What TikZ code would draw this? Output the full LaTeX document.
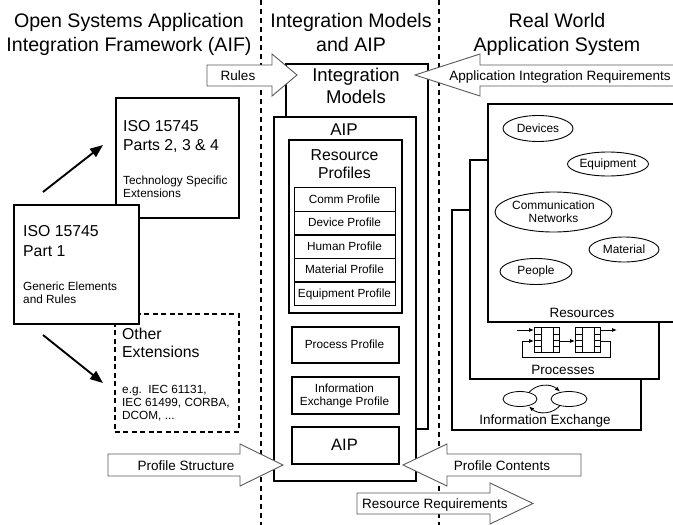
\documentclass[tikz,border=0pt]{standalone}
\usepackage{fontspec}
\setmainfont{Liberation Sans}
\usetikzlibrary{shapes.geometric,arrows.meta}
\begin{document}
\begin{tikzpicture}[x=1pt,y=-1pt,
  box/.style={draw, line width=1.6pt, fill=white, inner sep=0pt, anchor=north west},
  rowbox/.style={draw, line width=1.3pt, fill=white, inner sep=0pt, anchor=north west, minimum width=101pt, minimum height=23.6pt},
  dbox/.style={draw, line width=1.5pt, dash pattern=on 5pt off 3.5pt, fill=white, inner sep=0pt, anchor=north west},
  sepline/.style={line width=1.1pt, dash pattern=on 5pt off 4pt},
  barrow/.style={draw=black!65, line width=0.9pt, fill=white},
  ptr/.style={line width=1.9pt, -{Triangle[length=13pt,width=10pt]}},
  ico/.style={line width=0.8pt},
  icoarr/.style={line width=0.8pt, -{Latex[length=5pt,width=4pt]}},
  ell/.style={draw, ellipse, line width=0.9pt, inner sep=0pt, align=center, font=\fontsize{11.9}{13}\selectfont},
  f12/.style={font=\fontsize{11.8}{13}\selectfont},
  f13/.style={font=\fontsize{13.5}{16}\selectfont},
  f15/.style={font=\fontsize{15.8}{19}\selectfont},
  f16/.style={font=\fontsize{16.5}{20}\selectfont},
  f17/.style={font=\fontsize{17}{20}\selectfont},
  f18/.style={font=\fontsize{18.5}{22}\selectfont},
  f19/.style={font=\fontsize{19.6}{24}\selectfont},
  lb/.style={inner sep=0pt, anchor=base west},
  cb/.style={inner sep=0pt, anchor=base}]
\useasboundingbox (0,0) rectangle (673,525);

% separators
\draw[sepline] (261,0) -- (261,525);
\draw[sepline] (439,0) -- (439,525);

% headers
\node[cb,f19] (h1a) at (129,27) {Open Systems Application};
\node[cb,f19] (h1b) at (129,51) {Integration Framework (AIF)};
\node[cb,f19] (h2a) at (351,27) {Integration Models};
\node[cb,f19] (h2b) at (351,51) {and AIP};
\node[cb,f19] (h3a) at (557,27) {Real World};
\node[cb,f19] (h3b) at (557,51) {Application System};

% left column
\node[box, minimum width=123pt, minimum height=120pt] (parts) at (115,97) {};
\node[dbox, minimum width=124pt, minimum height=118pt] (other) at (114,313) {};
\node[box, minimum width=125pt, minimum height=119pt] (part1) at (13,204) {};
\node[lb,f15] (pa1) at (123,131) {ISO 15745};
\node[lb,f15] (pa2) at (123,150.7) {Parts 2, 3 \& 4};
\node[lb,f12] (pa3) at (123,184) {Technology Specific};
\node[lb,f12] (pa4) at (123,197.3) {Extensions};
\node[lb,f15] (p11) at (23,236.7) {ISO 15745};
\node[lb,f15] (p12) at (23,256.7) {Part 1};
\node[lb,f12] (p13) at (23,290) {Generic Elements};
\node[lb,f12] (p14) at (23,303.3) {and Rules};
\node[lb,f15] (o1) at (122,339) {Other};
\node[lb,f15] (o2) at (122,357.3) {Extensions};
\node[lb,f12] (o3) at (122,393) {e.g.\ \ IEC 61131,};
\node[lb,f12] (o4) at (122,406) {IEC 61499, CORBA,};
\node[lb,f12] (o5) at (122,419) {DCOM, ...};
\coordinate (upS) at (43,192);
\coordinate (upE) at (103,145);
\coordinate (dnS) at (43,335);
\coordinate (dnE) at (103,383);
\draw[ptr] (upS) -- (upE);
\draw[ptr] (dnS) -- (dnE);

% middle column
\node[box, minimum width=142pt, minimum height=365pt] (im) at (285,63) {};
\node[cb,f18] (imt1) at (356,81.5) {Integration};
\node[cb,f18] (imt2) at (356,103) {Models};
\node[box, minimum width=142pt, minimum height=364pt] (aip) at (273,116) {};
\node[cb,f17] (aipt) at (344,135) {AIP};
\node[box, minimum width=113pt, minimum height=173pt] (rp) at (288,139) {};
\node[cb,f15] (rpt1) at (344.5,160) {Resource};
\node[cb,f15] (rpt2) at (344.5,178) {Profiles};
\node[rowbox] (r1) at (294,187) {};
\node[rowbox] (r2) at (294,210.6) {};
\node[rowbox] (r3) at (294,234.2) {};
\node[rowbox] (r4) at (294,257.8) {};
\node[rowbox] (r5) at (294,281.4) {};
\node[cb,f12] (r1t) at (344.5,203) {Comm Profile};
\node[cb,f12] (r2t) at (344.5,226.6) {Device Profile};
\node[cb,f12] (r3t) at (344.5,250.2) {Human Profile};
\node[cb,f12] (r4t) at (344.5,273.8) {Material Profile};
\node[cb,f12] (r5t) at (344.5,297.4) {Equipment Profile};
\node[box, minimum width=107pt, minimum height=36pt] (pp) at (291,326) {};
\node[cb,f12] (ppt) at (344.5,348.2) {Process Profile};
\node[box, minimum width=107pt, minimum height=37pt] (iep) at (291,376) {};
\node[cb,f12] (iept1) at (344.5,392.3) {Information};
\node[cb,f12] (iept2) at (344.5,405) {Exchange Profile};
\node[box, minimum width=107pt, minimum height=37pt] (aip2) at (291,426) {};
\node[cb,f16] (aip2t) at (344.5,450.7) {AIP};

% right column
\node[box, minimum width=189pt, minimum height=220pt] (info) at (451,209) {};
\node[box, minimum width=189pt, minimum height=219pt] (proc) at (469,159) {};
\node[box, minimum width=192pt, minimum height=218pt] (res) at (487,103) {};
\node[ell, minimum width=70pt, minimum height=26pt] (dev) at (538,128.5) {Devices};
\node[ell, minimum width=81pt, minimum height=24pt] (equ) at (608,164) {Equipment};
\node[ell, minimum width=117pt, minimum height=40pt] (com) at (553.5,212) {Communication\\Networks};
\node[ell, minimum width=70pt, minimum height=25pt] (mat) at (624,249.5) {Material};
\node[ell, minimum width=72pt, minimum height=26pt] (peo) at (536,271.5) {People};
\node[cb,f13] (rest) at (582,317) {Resources};
\node[cb,f13] (proct) at (563,374) {Processes};
\node[cb,f13] (infot) at (545,424) {Information Exchange};

% process icon
\foreach \dx in {0,41}{
  \draw[ico] (534+\dx,327) rectangle (559+\dx,352);
  \draw[ico] (541+\dx,327) -- (541+\dx,352) (553+\dx,327) -- (553+\dx,352);
  \draw[ico] (534+\dx,334) -- (541+\dx,334) (534+\dx,340) -- (541+\dx,340) (534+\dx,346) -- (541+\dx,346);
  \draw[ico] (553+\dx,334) -- (559+\dx,334) (553+\dx,340) -- (559+\dx,340) (553+\dx,346) -- (559+\dx,346);
}
\draw[icoarr] (517,330) -- (534,330);
\draw[icoarr] (559,341) -- (575,341);
\draw[icoarr] (600,330) -- (617,330);
\draw[icoarr] (600,341) -- (610,341) -- (610,357) -- (522,357) -- (522,341) -- (534,341);

% information exchange icon
\draw[ico] (520,399) ellipse [x radius=17pt, y radius=7.5pt];
\draw[ico] (569,399) ellipse [x radius=18pt, y radius=7.5pt];
\draw[icoarr] (529,392.5) .. controls (536,384) and (550,383) .. (560,391.5);
\draw[icoarr] (560,405.5) .. controls (553,414) and (539,415) .. (529,406.5);

% block arrows
\draw[barrow] (207,65) -- (272,65) -- (272,54) -- (297,75) -- (272,96) -- (272,86) -- (207,86) -- cycle;
\node[cb,f13] (rul) at (238,80) {Rules};
\draw[barrow] (676,65) -- (480,65) -- (480,54) -- (415,75) -- (480,96) -- (480,86) -- (676,86) -- cycle;
\node[cb,f13] (air) at (560,80.5) {Application Integration Requirements};
\draw[barrow] (108,454) -- (240,454) -- (240,444) -- (283,465) -- (240,486) -- (240,476) -- (108,476) -- cycle;
\node[cb,f13] (pst) at (186,470) {Profile Structure};
\draw[barrow] (581,454) -- (447,454) -- (447,444) -- (403,465) -- (447,486) -- (447,476) -- (581,476) -- cycle;
\node[cb,f13] (pct) at (502,470) {Profile Contents};
\draw[barrow] (357,493) -- (490,493) -- (490,483) -- (533,503.5) -- (490,524) -- (490,514) -- (357,514) -- cycle;
\node[cb,f13] (rrq) at (435,508.5) {Resource Requirements};
\end{tikzpicture}
\end{document}
